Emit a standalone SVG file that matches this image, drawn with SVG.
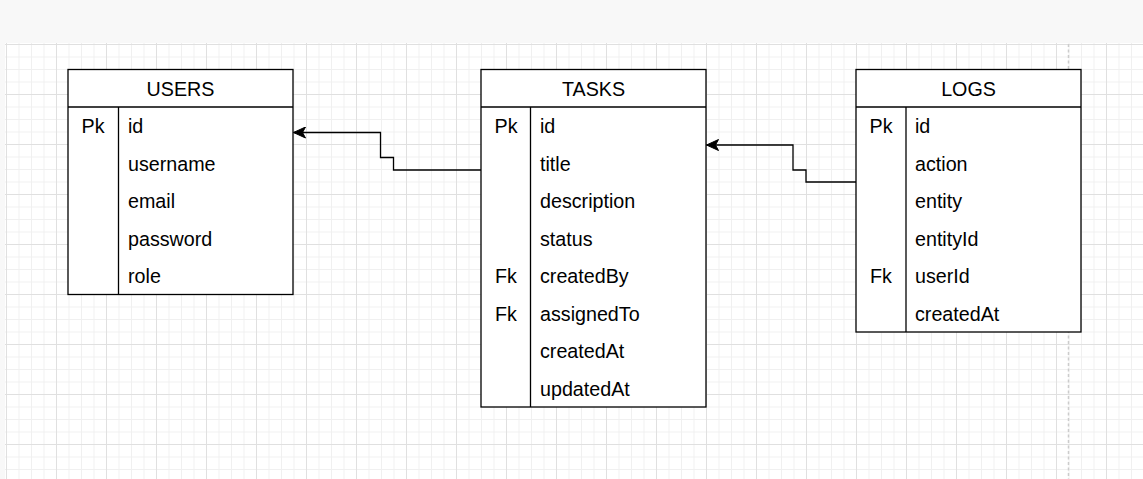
<svg xmlns="http://www.w3.org/2000/svg" width="1143" height="479" viewBox="0 0 1143 479">
<defs>
<pattern id="minor" patternUnits="userSpaceOnUse" x="6" y="44" width="12.5" height="12.5">
<path d="M0 0.5H12.5M0.5 0V12.5" fill="none" stroke="#f0f0f0" stroke-width="1"/>
</pattern>
<pattern id="major" patternUnits="userSpaceOnUse" x="6" y="44" width="50" height="50">
<path d="M0 0.5H50M0.5 0V50" fill="none" stroke="#e0e0e0" stroke-width="1"/>
</pattern>
<marker id="arr" markerUnits="userSpaceOnUse" markerWidth="14" markerHeight="12" refX="13" refY="6" orient="auto">
<path d="M13 6L1 0.5L4 6L1 11.5Z" fill="#000" stroke="#000" stroke-width="1"/>
</marker>
<style>
.box{fill:#fff;stroke:#000;stroke-width:1.3}
.ln{stroke:#000;stroke-width:1.3;fill:none}
.t{font-family:"Liberation Sans",Arial,sans-serif;font-size:19.7px;fill:#000}
.h{text-anchor:middle}
.k{text-anchor:middle}
.conn{fill:none;stroke:#000;stroke-width:1.3}
</style>
</defs>
<rect x="0" y="0" width="1143" height="479" fill="#f8f8f8"/>
<rect x="5" y="43" width="1138" height="436" fill="#fff"/>
<rect x="5" y="43" width="1138" height="436" fill="url(#minor)"/>
<rect x="5" y="43" width="1138" height="436" fill="url(#major)"/>
<line x1="1068.5" y1="44" x2="1068.5" y2="479" stroke="#cccccc" stroke-width="1.5" stroke-dasharray="3 2.5"/>

<g id="users">
<rect class="box" x="68" y="69.5" width="225" height="225"/>
<line class="ln" x1="68" y1="107" x2="293" y2="107"/>
<line class="ln" x1="118.5" y1="107" x2="118.5" y2="294.5"/>
<text class="t h" x="180.5" y="95.5">USERS</text>
<text class="t k" x="93" y="133">Pk</text>
<text class="t" x="128" y="133">id</text>
<text class="t" x="128" y="170.5">username</text>
<text class="t" x="128" y="208">email</text>
<text class="t" x="128" y="245.5">password</text>
<text class="t" x="128" y="283">role</text>
</g>

<g id="tasks">
<rect class="box" x="481" y="69.5" width="225" height="337.5"/>
<line class="ln" x1="481" y1="107" x2="706" y2="107"/>
<line class="ln" x1="530.5" y1="107" x2="530.5" y2="407"/>
<text class="t h" x="593.5" y="95.5">TASKS</text>
<text class="t k" x="506" y="133">Pk</text>
<text class="t" x="540" y="133">id</text>
<text class="t" x="540" y="170.5">title</text>
<text class="t" x="540" y="208">description</text>
<text class="t" x="540" y="245.5">status</text>
<text class="t k" x="506" y="283">Fk</text>
<text class="t" x="540" y="283">createdBy</text>
<text class="t k" x="506" y="320.5">Fk</text>
<text class="t" x="540" y="320.5">assignedTo</text>
<text class="t" x="540" y="358">createdAt</text>
<text class="t" x="540" y="395.5">updatedAt</text>
</g>

<g id="logs">
<rect class="box" x="856" y="69.5" width="225" height="262.5"/>
<line class="ln" x1="856" y1="107" x2="1081" y2="107"/>
<line class="ln" x1="906" y1="107" x2="906" y2="332"/>
<text class="t h" x="968.5" y="95.5">LOGS</text>
<text class="t k" x="881" y="133">Pk</text>
<text class="t" x="915" y="133">id</text>
<text class="t" x="915" y="170.5">action</text>
<text class="t" x="915" y="208">entity</text>
<text class="t" x="915" y="245.5">entityId</text>
<text class="t k" x="881" y="283">Fk</text>
<text class="t" x="915" y="283">userId</text>
<text class="t" x="915" y="320.5">createdAt</text>
</g>

<g id="connectors">
<path class="conn" d="M481 170H393.5V157.5H380.5V132.5H293.5" marker-end="url(#arr)"/>
<path class="conn" d="M856 182H806V170H793V145H706.5" marker-end="url(#arr)"/>
</g>
</svg>
